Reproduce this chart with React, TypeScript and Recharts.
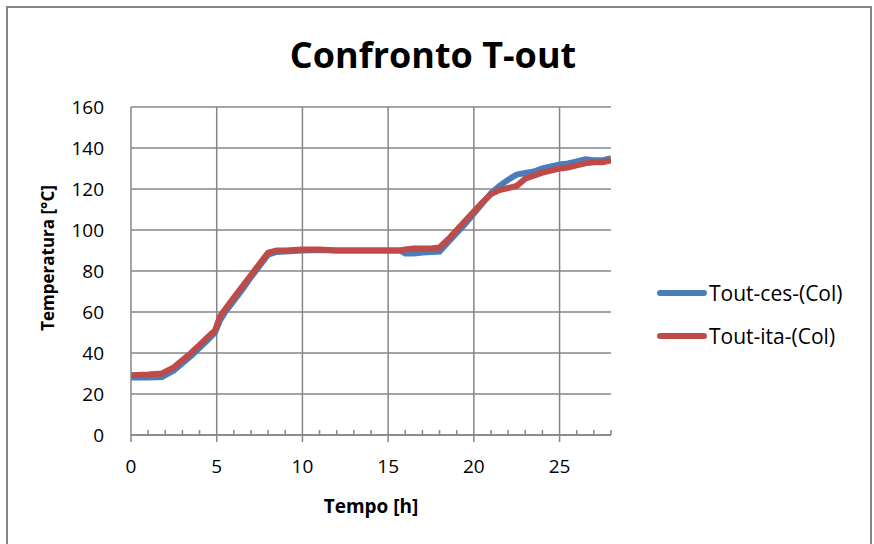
import React from 'react';
import { LineChart, Line, XAxis, YAxis, CartesianGrid, Legend, Label, ReferenceLine } from 'recharts';

const TIME = [0, 1, 1.8, 2.5, 3, 3.5, 4, 4.5, 4.9, 5.2, 5.5, 6, 6.5, 7, 7.5, 8, 8.5, 9, 10, 11, 12, 13, 14, 15, 15.7, 16, 16.5, 17, 17.5, 18, 18.5, 19, 19.5, 20, 20.5, 21, 21.5, 22, 22.5, 23, 23.5, 24, 24.5, 25, 25.5, 26, 26.5, 27, 27.5, 28];
const CES = [28, 28, 28.3, 31.5, 35, 38.5, 42.5, 46.5, 50, 56, 60, 65.5, 71, 77, 82.5, 88, 89.3, 89.5, 90, 90.3, 90, 90, 90, 90, 90, 88.5, 88.5, 89, 89.3, 89.5, 94, 98.5, 103, 108, 113, 118, 121.5, 124.5, 127, 127.8, 128.5, 130, 131, 132, 132.5, 133.5, 134.5, 134, 134, 135];
const ITA = [29.2, 29.5, 30, 33, 36.5, 40, 44, 48, 51, 58, 61.5, 67, 72.5, 78, 83.5, 89, 90, 90, 90.5, 90.5, 90, 90, 90, 90, 90, 90.5, 91, 91, 91, 91.5, 95.5, 100, 104.5, 109, 113.5, 117.5, 119.5, 120.5, 121.5, 125, 126.5, 128, 129, 130, 130.5, 131.5, 132.5, 133, 133, 134];
const X_MAJOR = [0, 5, 10, 15, 20, 25];
const X_TICKS = [0, 1, 2, 3, 4, 5, 6, 7, 8, 9, 10, 11, 12, 13, 14, 15, 16, 17, 18, 19, 20, 21, 22, 23, 24, 25, 26, 27, 28];
const Y_TICKS = [0, 20, 40, 60, 80, 100, 120, 140, 160];
const SERIES = [
  { key: 'ces', name: 'Tout-ces-(Col)', color: '#4A7EBB' },
  { key: 'ita', name: 'Tout-ita-(Col)', color: '#BE4B48' },
];
const TITLE = 'Confronto T-out';
const X_LABEL = 'Tempo [h]';
const Y_LABEL = 'Temperatura [°C]';

const data = TIME.map((t, i) => ({ t, ces: CES[i], ita: ITA[i] }));

const FONT = "'Open Sans', sans-serif";
const GRAY = '#868686';

const LegendContent = () => (
  <div style={{ fontFamily: FONT, fontSize: 21, color: '#000' }}>
    {SERIES.map((s) => (
      <div key={s.key} style={{ display: 'flex', alignItems: 'center', height: 43 }}>
        <div style={{ width: 50, height: 6, borderRadius: 3, background: s.color }} />
        <span style={{ marginLeft: 2 }}>{s.name}</span>
      </div>
    ))}
  </div>
);

const YLabel = () => (
  <text
    x={54}
    y={258}
    transform="rotate(-90 54 258)"
    textAnchor="middle"
    fontFamily={FONT}
    fontSize={17}
    fontWeight="bold"
    fill="#000"
  >
    {Y_LABEL}
  </text>
);

const XTick = (props: any) => {
  const { x, y, payload } = props;
  const v = payload.value;
  const major = X_MAJOR.includes(v);
  return (
    <g>
      {major ? (
        <line x1={x} x2={x} y1={y} y2={y + 7} stroke={GRAY} strokeWidth={1.5} />
      ) : (
        <line x1={x} x2={x} y1={y - 5} y2={y} stroke={GRAY} strokeWidth={1.5} />
      )}
      {major && (
        <text x={x} y={y + 38} textAnchor="middle" fontFamily={FONT} fontSize={19} fill="#000">
          {v}
        </text>
      )}
    </g>
  );
};

export default function App() {
  return (
    <div style={{ position: 'absolute', left: 0, top: 0, width: 874, height: 544, overflow: 'hidden', background: '#fff' }}>
      <div style={{ position: 'absolute', left: 6, top: 6, width: 862, height: 600, border: `2px solid ${GRAY}` }} />
      <div
        style={{
          position: 'absolute', left: 0, top: 31, width: 866, textAlign: 'center',
          fontFamily: FONT, fontWeight: 'bold', fontSize: 36, lineHeight: '48px', color: '#000',
        }}
      >
        {TITLE}
      </div>
      <div style={{ position: 'absolute', left: 0, top: 0 }}>
        <LineChart width={874} height={544} data={data} margin={{ top: 107, right: 53, left: 0, bottom: 0 }}>
          <CartesianGrid stroke={GRAY} strokeWidth={1.5} vertical={false} />
          {X_MAJOR.filter((v) => v > 0).map((v) => (
            <ReferenceLine key={v} x={v} stroke={GRAY} strokeWidth={1.5} />
          ))}
          <XAxis
            dataKey="t"
            type="number"
            domain={[0, 28]}
            ticks={X_TICKS}
            interval={0}
            height={109}
            tickSize={0}
            tickMargin={0}
            tickLine={false}
            stroke={GRAY}
            strokeWidth={1.5}
            tick={<XTick />}
            allowDataOverflow
          >
            <Label
              value={X_LABEL}
              position="insideBottom"
              offset={31}
              style={{ fontFamily: FONT, fontSize: 19, fontWeight: 'bold', fill: '#000' }}
            />
          </XAxis>
          <YAxis
            type="number"
            domain={[0, 160]}
            ticks={Y_TICKS}
            interval={0}
            width={131}
            tickLine={false}
            tickMargin={21}
            stroke={GRAY}
            strokeWidth={1.5}
            tick={{ fill: '#000', fontFamily: FONT, fontSize: 19 }}
          >
            <Label content={<YLabel />} />
          </YAxis>
          <Legend
            layout="vertical"
            align="right"
            verticalAlign="middle"
            width={210}
            wrapperStyle={{ left: 657, top: 271, right: 'auto' }}
            content={<LegendContent />}
          />
          {SERIES.map((s) => (
            <Line
              key={s.key}
              dataKey={s.key}
              name={s.name}
              type="linear"
              stroke={s.color}
              strokeWidth={6}
              dot={false}
              activeDot={false}
              isAnimationActive={false}
            />
          ))}
        </LineChart>
      </div>
    </div>
  );
}
